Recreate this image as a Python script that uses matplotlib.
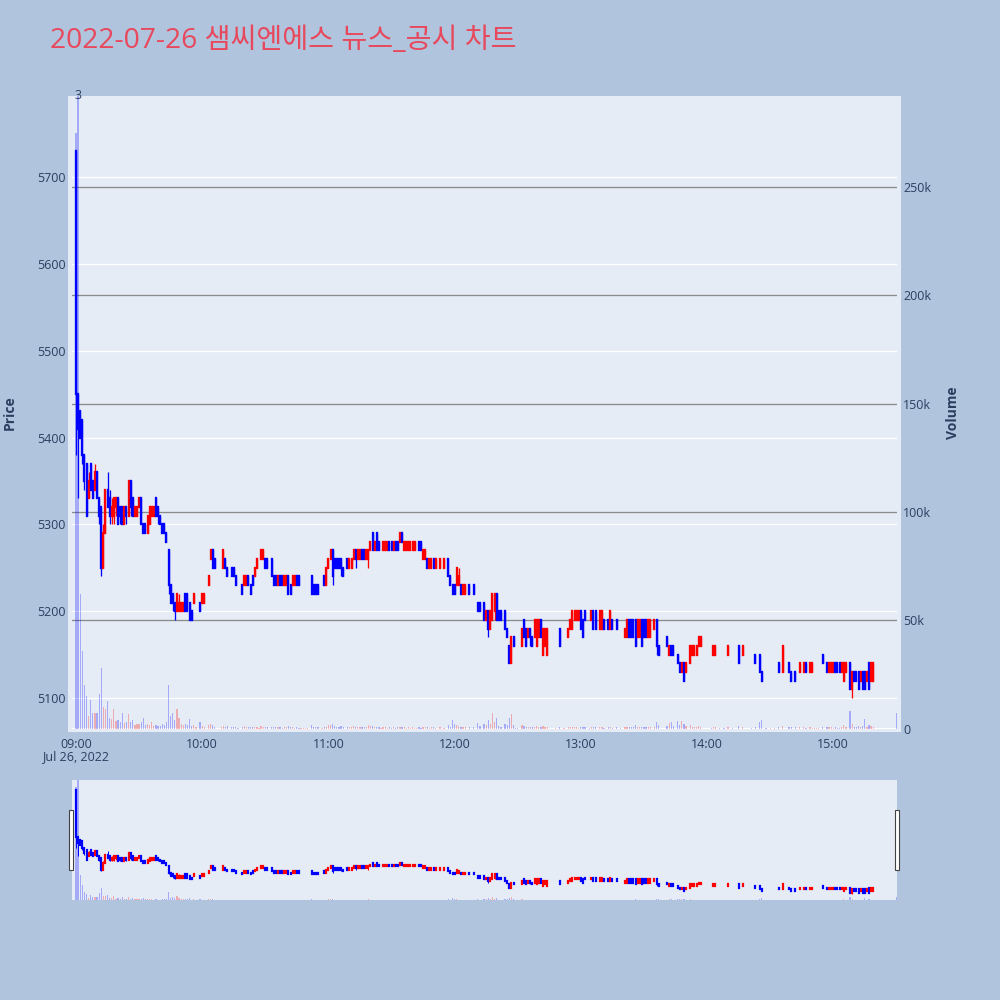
import matplotlib
matplotlib.use("Agg")
import matplotlib.pyplot as plt
from matplotlib.patches import Rectangle
from matplotlib.transforms import blended_transform_factory
import numpy as np

plt.rcParams["font.family"] = ["Open Sans", "Noto Sans CJK KR", "DejaVu Sans"]

TITLE = "2022-07-26 샘씨엔에스 뉴스_공시 차트"
news_time = "09:01"
news_count_label = "3"

# ---- one-minute bars (only minutes with trades) ----
times = [
    # 09
    "09:00","09:01","09:02","09:03","09:04","09:05","09:06","09:07","09:08","09:09",
    "09:10","09:11","09:12","09:13","09:14","09:15","09:16","09:17","09:18","09:19",
    "09:20","09:21","09:22","09:23","09:24","09:25","09:26","09:27","09:28","09:29",
    "09:30","09:31","09:32","09:33","09:34","09:35","09:36","09:37","09:38","09:39",
    "09:40","09:41","09:42","09:43","09:44","09:45","09:46","09:47","09:48","09:49",
    "09:50","09:51","09:52","09:53","09:54","09:55","09:56","09:57","09:59",
    # 10
    "10:00","10:01","10:03","10:04","10:05","10:06","10:09","10:10","10:11","10:12",
    "10:14","10:15","10:16","10:17","10:19","10:20","10:21","10:22","10:23","10:24",
    "10:25","10:26","10:27","10:28","10:29","10:30","10:31","10:33","10:34","10:35",
    "10:36","10:37","10:38","10:39","10:40","10:41","10:42","10:43","10:44","10:45",
    "10:46","10:47","10:48","10:49","10:50","10:52","10:53","10:54","10:55","10:57",
    "10:58","10:59",
    # 11
    "11:00","11:01","11:02","11:03","11:04","11:05","11:06","11:07","11:09","11:10",
    "11:11","11:12","11:13","11:14","11:15","11:16","11:17","11:18","11:19","11:20",
    "11:21","11:22","11:23","11:24","11:25","11:26","11:27","11:28","11:29","11:30",
    "11:31","11:32","11:33","11:34","11:35","11:36","11:37","11:38","11:39","11:40",
    "11:41","11:42","11:43","11:44","11:45","11:46","11:47","11:48","11:49","11:50",
    "11:51","11:53","11:55","11:57","11:58","11:59",
    # 12
    "12:00","12:01","12:02","12:03","12:04","12:05","12:07","12:09","12:11","12:12",
    "12:14","12:15","12:16","12:17","12:18","12:19","12:20","12:21","12:22","12:24",
    "12:25","12:26","12:27","12:28","12:29","12:30","12:32","12:33","12:34","12:35",
    "12:36","12:37","12:38","12:39","12:40","12:41","12:42","12:43","12:44","12:48",
    "12:50","12:52","12:54","12:55","12:56","12:57","12:58","12:59",
    # 13
    "13:00","13:01","13:02","13:04","13:05","13:06","13:07","13:09","13:10","13:11",
    "13:13","13:14","13:15","13:17","13:19","13:21","13:22","13:23","13:24","13:25",
    "13:26","13:27","13:28","13:29","13:30","13:31","13:32","13:33","13:35","13:36",
    "13:37","13:41","13:42","13:43","13:44","13:46","13:47","13:48","13:49","13:50",
    "13:52","13:53","13:54","13:55","13:56","13:57",
    # 14
    "14:02","14:03","14:04","14:06","14:08","14:10","14:12","14:15","14:17","14:21",
    "14:23","14:25","14:26","14:28","14:30","14:32","14:34","14:36","14:39","14:40",
    "14:42","14:44","14:46","14:47","14:49","14:50","14:51","14:52","14:53","14:55",
    "14:57","14:58","14:59",
    # 15
    "15:00","15:01","15:02","15:03","15:04","15:05","15:06","15:08","15:09","15:10",
    "15:11","15:12","15:13","15:14","15:15","15:16","15:17","15:18","15:19","15:30",
]

opens = [
    5730,5450,5430,5420,5380,5370,5330,5370,5350,5340,
    5360,5330,5320,5250,5290,5340,5330,5310,5310,5320,
    5330,5320,5320,5300,5320,5310,5350,5330,5310,5310,
    5320,5330,5300,5300,5290,5300,5310,5310,5330,5320,
    5310,5300,5300,5290,5270,5230,5220,5210,5200,5200,
    5200,5200,5220,5220,5210,5200,5210,5220,5210,
    5210,5210,5230,5260,5270,5260,5260,5250,5260,5250,
    5250,5250,5240,5230,5230,5230,5230,5240,5230,5240,
    5240,5250,5260,5260,5260,5260,5260,5260,5240,5240,
    5230,5240,5240,5230,5230,5240,5230,5230,5230,5240,
    5240,5240,5240,5240,5240,5240,5230,5230,5230,5240,
    5240,5230,
    5250,5260,5270,5260,5260,5260,5260,5250,5260,5250,
    5250,5260,5270,5260,5260,5270,5270,5260,5260,5270,
    5290,5270,5290,5280,5280,5270,5270,5270,5280,5280,
    5270,5280,5280,5280,5290,5270,5270,5270,5270,5270,
    5270,5280,5280,5280,5260,5260,5260,5250,5250,5260,
    5250,5250,5250,5260,5240,5230,
    5230,5230,5230,5230,5220,5220,5230,5230,5210,5210,
    5210,5190,5200,5180,5190,5200,5220,5200,5200,5200,
    5180,5160,5140,5170,5160,5160,5160,5190,5180,5170,
    5180,5170,5170,5160,5170,5190,5150,5160,5150,5180,
    5180,5180,5170,5180,5180,5190,5190,5190,
    5200,5190,5200,5190,5190,5200,5200,5180,5180,5190,
    5190,5180,5190,5190,5180,5170,5170,5190,5190,5190,
    5190,5170,5170,5190,5190,5190,5170,5170,5180,5190,
    5160,5170,5150,5160,5160,5150,5140,5130,5140,5130,
    5140,5150,5150,5150,5160,5160,
    5160,5150,5150,5150,5150,5150,5150,5160,5150,5150,
    5150,5150,5130,5120,5130,5160,5140,5130,5140,5130,
    5130,5130,5130,5140,5130,5130,5140,5140,5140,5150,
    5140,5130,5130,
    5130,5140,5140,5140,5130,5120,5130,5140,5110,5130,
    5130,5130,5120,5130,5130,5120,5140,5120,5120,5120,
]

highs = [
    5730,5450,5430,5420,5380,5370,5360,5370,5350,5370,
    5360,5330,5320,5300,5340,5360,5340,5330,5330,5330,
    5330,5320,5320,5320,5320,5350,5350,5330,5320,5320,
    5330,5330,5300,5300,5310,5320,5320,5320,5330,5320,
    5310,5300,5300,5290,5270,5230,5220,5210,5220,5220,
    5210,5210,5220,5220,5210,5200,5220,5220,5210,
    5220,5220,5240,5270,5270,5260,5260,5270,5260,5250,
    5250,5250,5240,5230,5230,5240,5240,5240,5230,5240,
    5250,5260,5260,5270,5270,5260,5260,5260,5240,5240,
    5240,5240,5240,5240,5240,5240,5230,5240,5240,5240,
    5240,5240,5240,5240,5240,5240,5230,5230,5230,5240,
    5240,5250,
    5260,5270,5270,5260,5260,5260,5260,5250,5260,5260,
    5260,5270,5270,5270,5270,5270,5270,5270,5270,5280,
    5290,5280,5290,5280,5280,5280,5280,5280,5280,5280,
    5280,5280,5280,5290,5290,5280,5280,5280,5280,5280,
    5280,5280,5280,5280,5270,5270,5260,5260,5260,5260,
    5260,5260,5260,5260,5240,5230,
    5230,5250,5250,5230,5230,5230,5230,5230,5210,5210,
    5210,5200,5200,5200,5220,5220,5220,5200,5200,5200,
    5180,5160,5170,5170,5160,5160,5180,5190,5180,5180,
    5180,5170,5190,5190,5190,5190,5180,5180,5180,5180,
    5180,5180,5180,5190,5200,5200,5200,5200,
    5200,5190,5200,5190,5200,5200,5200,5200,5200,5190,
    5190,5200,5190,5190,5180,5180,5190,5190,5190,5190,
    5190,5190,5190,5190,5190,5190,5190,5190,5190,5190,
    5160,5170,5160,5160,5160,5150,5140,5140,5140,5140,
    5160,5160,5160,5160,5170,5170,
    5160,5160,5160,5150,5150,5160,5150,5160,5160,5150,
    5150,5150,5130,5120,5130,5160,5140,5160,5140,5130,
    5130,5140,5140,5140,5140,5140,5140,5140,5140,5150,
    5140,5140,5140,
    5140,5140,5140,5140,5140,5140,5140,5140,5130,5130,
    5130,5130,5130,5130,5130,5130,5140,5140,5140,5120,
]

lows = [
    5380,5330,5400,5370,5340,5310,5330,5340,5330,5340,
    5330,5300,5240,5250,5290,5320,5300,5300,5300,5310,
    5300,5300,5300,5300,5300,5310,5310,5310,5310,5310,
    5320,5300,5290,5290,5290,5300,5310,5310,5310,5300,
    5300,5290,5290,5280,5220,5210,5200,5190,5200,5200,
    5200,5200,5200,5200,5190,5190,5210,5220,5200,
    5210,5210,5230,5260,5250,5250,5260,5250,5250,5240,
    5240,5240,5230,5230,5220,5230,5230,5230,5220,5230,
    5240,5250,5260,5260,5260,5250,5250,5240,5230,5230,
    5230,5230,5230,5230,5230,5220,5220,5230,5230,5230,
    5230,5240,5240,5240,5240,5220,5220,5220,5220,5240,
    5230,5230,
    5250,5260,5230,5250,5250,5250,5240,5240,5250,5250,
    5250,5260,5250,5260,5260,5260,5260,5260,5250,5270,
    5270,5270,5270,5270,5280,5270,5270,5270,5270,5270,
    5270,5270,5270,5280,5280,5270,5270,5270,5270,5270,
    5270,5280,5270,5270,5260,5260,5250,5250,5250,5250,
    5250,5250,5250,5240,5230,5220,
    5220,5230,5230,5220,5220,5220,5220,5220,5200,5200,
    5190,5190,5170,5180,5190,5190,5190,5190,5190,5180,
    5170,5140,5140,5160,5160,5160,5160,5170,5160,5170,
    5160,5160,5170,5160,5170,5170,5150,5160,5150,5180,
    5160,5180,5170,5180,5180,5190,5190,5190,
    5180,5170,5190,5190,5190,5180,5180,5180,5180,5180,
    5180,5180,5180,5180,5180,5170,5170,5170,5170,5170,
    5160,5170,5170,5160,5170,5170,5170,5170,5180,5150,
    5150,5160,5150,5150,5150,5140,5130,5130,5120,5130,
    5140,5150,5150,5150,5160,5160,
    5160,5150,5150,5150,5150,5150,5150,5140,5150,5150,
    5140,5130,5120,5120,5130,5160,5130,5130,5130,5120,
    5120,5130,5130,5130,5130,5130,5140,5140,5140,5140,
    5130,5130,5130,
    5130,5130,5130,5130,5130,5120,5130,5110,5100,5120,
    5120,5110,5120,5110,5110,5120,5110,5120,5120,5120,
]

closes = [
    5450,5410,5400,5380,5350,5310,5350,5340,5330,5360,
    5330,5310,5250,5290,5340,5320,5310,5320,5330,5330,
    5300,5310,5300,5320,5310,5350,5320,5310,5320,5320,
    5330,5300,5290,5290,5310,5320,5320,5320,5310,5310,
    5300,5290,5290,5280,5230,5210,5210,5200,5220,5210,
    5210,5210,5200,5200,5190,5190,5220,5220,5200,
    5220,5220,5240,5270,5250,5250,5260,5270,5250,5240,
    5240,5240,5230,5230,5220,5240,5240,5230,5220,5230,
    5250,5260,5260,5270,5270,5250,5250,5240,5230,5230,
    5240,5230,5230,5240,5240,5220,5220,5240,5240,5230,
    5230,5240,5240,5240,5240,5220,5220,5220,5220,5240,
    5230,5250,
    5260,5270,5240,5250,5250,5250,5250,5240,5250,5260,
    5260,5270,5260,5270,5270,5260,5260,5270,5270,5280,
    5270,5280,5270,5270,5280,5280,5280,5280,5270,5270,
    5280,5270,5270,5290,5280,5280,5280,5280,5280,5280,
    5280,5280,5270,5270,5270,5270,5250,5260,5260,5250,
    5260,5260,5260,5240,5230,5220,
    5220,5250,5240,5220,5230,5230,5220,5220,5200,5200,
    5190,5200,5180,5200,5220,5220,5190,5190,5190,5180,
    5170,5140,5170,5160,5160,5160,5180,5170,5160,5180,
    5170,5160,5190,5190,5190,5170,5180,5180,5180,5180,
    5160,5180,5180,5190,5200,5200,5200,5200,
    5180,5170,5190,5190,5200,5180,5180,5200,5200,5180,
    5180,5200,5180,5180,5180,5180,5190,5170,5170,5170,
    5160,5190,5190,5160,5170,5170,5190,5190,5190,5160,
    5150,5160,5160,5150,5150,5140,5130,5140,5120,5140,
    5160,5160,5160,5160,5170,5170,
    5160,5160,5160,5150,5150,5160,5150,5140,5160,5150,
    5140,5130,5120,5120,5130,5160,5130,5160,5130,5120,
    5120,5140,5140,5130,5140,5140,5140,5140,5140,5140,
    5130,5140,5140,
    5140,5130,5130,5130,5140,5140,5140,5110,5130,5120,
    5120,5110,5130,5110,5110,5130,5110,5140,5140,5120,
]

volumes = [
    275000,330000,62000,36000,20000,15000,6000,13000,7000,7000,
    7000,16000,28000,10000,9000,12600,5000,4500,9000,3500,
    4000,3000,7000,2500,3000,6500,3000,4000,1500,2000,
    2000,3000,5000,1500,2000,1500,3000,1000,1500,1000,
    1200,2000,1500,3000,20000,5700,7000,4000,8800,5000,
    2000,1500,2000,1500,4500,1000,1500,500,3000,
    1000,800,1500,2000,1500,800,500,1000,800,1000,
    600,800,500,400,800,1000,700,600,800,500,
    600,700,300,1000,800,600,500,800,600,500,
    600,800,400,500,600,1200,500,800,400,500,
    300,300,200,300,200,1500,600,800,500,300,
    500,800,
    1500,1500,2000,1000,800,600,1000,600,500,800,
    600,1000,800,900,700,500,600,700,1500,1200,
    1000,600,800,500,300,600,500,400,500,300,
    600,400,500,800,700,500,400,600,300,500,
    400,200,500,400,600,500,700,400,500,600,
    300,500,400,1500,800,4000,
    2000,1500,1000,800,600,500,800,700,2500,1200,
    2000,1500,4000,2000,7000,3000,5000,1000,800,2000,
    1500,5000,6500,1500,300,300,1500,1200,800,600,
    700,500,800,1200,700,800,1000,600,900,200,
    800,200,500,600,800,500,700,400,
    600,800,500,200,600,700,500,600,500,400,
    500,600,400,500,200,500,600,700,500,600,
    1500,700,500,900,600,500,700,500,600,3000,
    1500,1200,2500,3000,1000,3500,1500,3500,2000,1000,
    1500,800,600,500,1200,800,
    300,500,600,300,200,500,300,1200,500,300,
    600,3000,4000,300,300,200,800,1200,600,800,
    900,700,500,400,600,400,300,200,300,800,
    700,500,600,
    400,500,400,300,600,1500,500,8000,2000,800,
    600,1000,500,1200,4600,800,1500,1200,900,7000,
]

price_ticks = [5100, 5200, 5300, 5400, 5500, 5600, 5700]
volume_ticks = [0, 50000, 100000, 150000, 200000, 250000]
volume_tick_labels = ["0", "50k", "100k", "150k", "200k", "250k"]
hour_labels = ["09:00", "10:00", "11:00", "12:00", "13:00", "14:00", "15:00"]
date_label = "Jul 26, 2022"

PRICE_RANGE = (5064.9, 5793.3)
VOLUME_RANGE = (0, 292000)
X_RANGE = (-1.9, 390.3)

UP = "#FF0000"
DOWN = "#0000FF"
TEXT = "#2a3f5f"
PLOT_BG = "#E5ECF6"
PAGE_BG = "#B0C4DE"
TICK_PT = 9.0


def to_minutes(t):
    h, m = t.split(":")
    return (int(h) - 9) * 60 + int(m)


n = len(times)
assert all(len(a) == n for a in (opens, highs, lows, closes, volumes))

x = np.array([to_minutes(t) for t in times], dtype=float)
o = np.array(opens, dtype=float)
h = np.array(highs, dtype=float)
lo = np.array(lows, dtype=float)
c = np.array(closes, dtype=float)
v = np.array(volumes, dtype=float)

# rising / falling: flat bars follow the move from the previous close
rising = []
prev_c, prev_up = None, True
for oi, ci in zip(o, c):
    if ci > oi:
        up = True
    elif ci < oi:
        up = False
    elif prev_c is None or ci == prev_c:
        up = prev_up
    else:
        up = ci > prev_c
    rising.append(up)
    prev_c, prev_up = ci, up
rising = np.array(rising)
candle_colors = np.where(rising, UP, DOWN)
volume_colors = [(1, 0, 0, 0.28) if r else (0, 0, 1, 0.28) for r in rising]

PX = 0.72  # points per pixel at 100 dpi


def draw_volume(ax, width):
    ax.bar(x, v, width=width, color=volume_colors, linewidth=0, zorder=2)


def draw_candles(ax, body_px, wick_px):
    ax.vlines(x, lo, h, colors=candle_colors, linewidth=wick_px * PX, zorder=3)
    ax.vlines(x, np.minimum(o, c), np.maximum(o, c), colors=candle_colors,
              linewidth=body_px * PX, capstyle="projecting", zorder=4)


def bare(ax):
    for s in ax.spines.values():
        s.set_visible(False)


fig = plt.figure(figsize=(10, 10), dpi=100, facecolor=PAGE_BG)

# plot background panel
fig.add_artist(Rectangle((0.068, 0.268), 0.833, 0.636, transform=fig.transFigure,
                         facecolor=PLOT_BG, edgecolor="none", zorder=0))

main_rect = [0.072, 0.2715, 0.825, 0.6325]
ax_v = fig.add_axes(main_rect, zorder=1)
ax_p = fig.add_axes(main_rect, zorder=2, sharex=ax_v)
for ax in (ax_v, ax_p):
    ax.set_facecolor("none")
    bare(ax)

ax_v.set_xlim(*X_RANGE)
ax_v.set_ylim(*VOLUME_RANGE)
ax_p.set_ylim(*PRICE_RANGE)

# grid: price levels in white, volume levels in grey, both under the bars
price_tr = blended_transform_factory(ax_v.transAxes, ax_p.transData)
for p in price_ticks:
    ax_v.plot([0, 1], [p, p], transform=price_tr, color="white", lw=1.3 * PX, zorder=0.5)
for vt in volume_ticks[1:]:
    ax_v.axhline(vt, color="#8a8a8a", lw=1.3 * PX, zorder=0.6)
ax_v.axhline(0, color="white", lw=2 * PX, zorder=0.7)

draw_volume(ax_v, 0.6)
draw_candles(ax_p, 2.3, 1.3)

# axes ticks
ax_p.set_yticks(price_ticks)
ax_p.set_yticklabels([str(p) for p in price_ticks])
ax_p.tick_params(axis="y", length=0, pad=4.5, labelsize=TICK_PT, labelcolor=TEXT)
ax_p.tick_params(axis="x", bottom=False, labelbottom=False)

ax_v.yaxis.tick_right()
ax_v.set_yticks(volume_ticks)
ax_v.set_yticklabels(volume_tick_labels)
ax_v.tick_params(axis="y", length=0, pad=4.5, labelsize=TICK_PT, labelcolor=TEXT)
ax_v.set_xticks([to_minutes(t) for t in hour_labels])
ax_v.set_xticklabels([hour_labels[0] + "\n" + date_label] + hour_labels[1:],
                     linespacing=1.0)
ax_v.tick_params(axis="x", length=0, pad=6.5, labelsize=TICK_PT, labelcolor=TEXT)

ax_p.annotate(news_count_label, xy=(to_minutes(news_time), 1.0),
              xycoords=("data", "axes fraction"), xytext=(0, 0.5),
              textcoords="offset points", ha="center", va="center",
              fontsize=TICK_PT, color=TEXT)

fig.text(0.050, 0.959, TITLE, fontsize=20.3, color="#E8485C", ha="left", va="center")
fig.text(0.0095, 0.587, "Price", rotation=90, ha="center", va="center",
         fontsize=10, fontweight="bold", color=TEXT)
fig.text(0.953, 0.587, "Volume", rotation=90, ha="center", va="center",
         fontsize=10, fontweight="bold", color=TEXT)

# range slider: the whole session in miniature
slider_rect = [0.072, 0.100, 0.825, 0.120]
sv = fig.add_axes(slider_rect, zorder=1)
sp = fig.add_axes(slider_rect, zorder=2, sharex=sv)
sv.set_facecolor(PLOT_BG)
sp.set_facecolor("none")
for ax in (sv, sp):
    bare(ax)
    ax.set_xticks([])
    ax.set_yticks([])
sv.set_xlim(*X_RANGE)
sv.set_ylim(*VOLUME_RANGE)
sp.set_ylim(*PRICE_RANGE)
draw_volume(sv, 0.6)
draw_candles(sp, 2.2, 1.0)

for hx in (0.069, 0.895):
    fig.add_artist(Rectangle((hx, 0.130), 0.004, 0.060, transform=fig.transFigure,
                             facecolor="white", edgecolor="#444444", lw=0.8, zorder=5))

fig.savefig("out.png", dpi=100, facecolor=PAGE_BG)
